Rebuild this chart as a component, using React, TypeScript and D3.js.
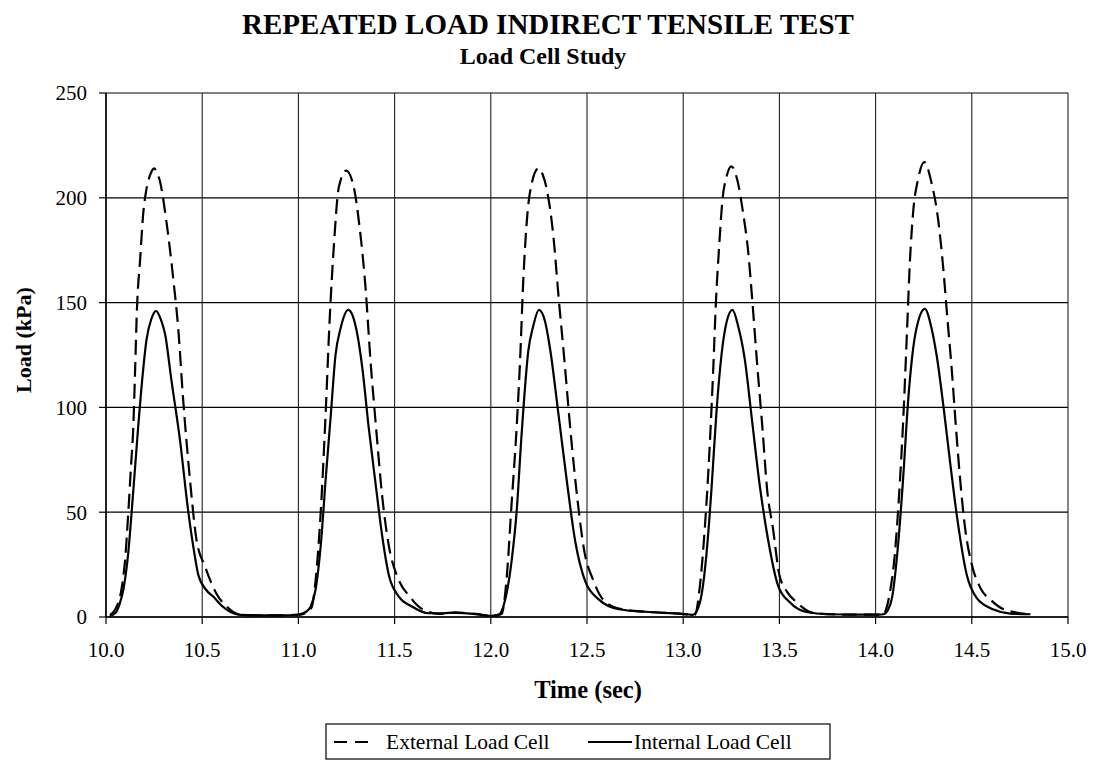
import React from "react";
import * as d3 from "d3";

// ---- Data ----
const xTicks = [10.0, 10.5, 11.0, 11.5, 12.0, 12.5, 13.0, 13.5, 14.0, 14.5, 15.0];
const yTicks = [0, 50, 100, 150, 200, 250];

// External load cell (dashed) : [time (sec), load (kPa)]
const externalLoadCell: [number, number][] = [
  [10.02, 1], [10.05, 4], [10.08, 13], [10.1, 28], [10.116, 50], [10.13, 72], [10.142, 91], [10.152, 120],
  [10.16, 145], [10.177, 170], [10.194, 193], [10.21, 204], [10.23, 211], [10.25, 214], [10.265, 212], [10.28, 208],
  [10.315, 188], [10.35, 161], [10.376, 137], [10.4, 105], [10.437, 65], [10.47, 37], [10.515, 24], [10.575, 11],
  [10.627, 5], [10.7, 1], [10.8, 0.8], [10.9, 0.8], [11.0, 1], [11.04, 2],
  [11.055, 3], [11.07, 5], [11.09, 18], [11.116, 50], [11.142, 98], [11.162, 141], [11.185, 178], [11.21, 205],
  [11.249, 213], [11.288, 205], [11.318, 186], [11.349, 157], [11.375, 122], [11.404, 90], [11.435, 58], [11.47, 34],
  [11.52, 18], [11.58, 9.6], [11.64, 4], [11.73, 1.5], [11.815, 2], [11.92, 1.5], [12.005, 0.6],
  [12.056, 1.5], [12.082, 18], [12.108, 54], [12.134, 90], [12.152, 122], [12.169, 161], [12.19, 192], [12.213, 207],
  [12.247, 214], [12.27, 211], [12.291, 204], [12.326, 181], [12.352, 153], [12.383, 122], [12.413, 90], [12.448, 58],
  [12.483, 33], [12.535, 17], [12.578, 9], [12.666, 4], [12.805, 2.5], [12.9, 2], [12.979, 1.6], [13.03, 1.2],
  [13.06, 1], [13.087, 15], [13.112, 42], [13.138, 82], [13.156, 118], [13.17, 150], [13.187, 177], [13.204, 199],
  [13.225, 210], [13.25, 215], [13.285, 207], [13.311, 193], [13.337, 175], [13.36, 150], [13.384, 121], [13.412, 90],
  [13.436, 61], [13.467, 42], [13.5, 20], [13.54, 12], [13.59, 7], [13.675, 2], [13.8, 1.2], [13.9, 1.1], [14.02, 1.1],
  [14.038, 1.2], [14.073, 11], [14.1, 30], [14.122, 58], [14.143, 93], [14.164, 138], [14.178, 169], [14.195, 193],
  [14.221, 209], [14.253, 217], [14.291, 207], [14.326, 189], [14.352, 166], [14.373, 142.5], [14.395, 119], [14.418, 90],
  [14.439, 66], [14.465, 42.5], [14.5, 25], [14.544, 14], [14.605, 7.6], [14.666, 3.7], [14.805, 1.3],
];

// Internal load cell (solid) : [time (sec), load (kPa)]
const internalLoadCell: [number, number][] = [
  [10.02, 0.5], [10.05, 2], [10.07, 6], [10.09, 13], [10.115, 30], [10.14, 58], [10.165, 88], [10.19, 115],
  [10.21, 132], [10.235, 142], [10.26, 146], [10.285, 142], [10.307, 135], [10.34, 113], [10.385, 84], [10.428, 50],
  [10.46, 30], [10.48, 20], [10.52, 13], [10.56, 9.5], [10.6, 5.5], [10.645, 2.5], [10.7, 1], [10.8, 0.8], [10.9, 0.8],
  [11.0, 1.2],
  [11.04, 2.5], [11.064, 5], [11.09, 13.5], [11.116, 34], [11.142, 66], [11.168, 96], [11.193, 125], [11.22, 138],
  [11.259, 146.5], [11.285, 143], [11.306, 135], [11.332, 119], [11.366, 90], [11.4, 64.5], [11.435, 39], [11.47, 20],
  [11.52, 10], [11.59, 5], [11.677, 1.8], [11.75, 1.8], [11.815, 2.2], [11.87, 1.8], [11.92, 1.4], [12.005, 0.6],
  [12.04, 1], [12.073, 7.6], [12.108, 26.7], [12.134, 50], [12.16, 87], [12.195, 127], [12.221, 139], [12.25, 146.5],
  [12.282, 141], [12.308, 128], [12.352, 96.5], [12.395, 65], [12.439, 36], [12.491, 17], [12.561, 8.4], [12.666, 3.7],
  [12.805, 2.5], [12.9, 2], [12.979, 1.6], [13.03, 1.2],
  [13.05, 1], [13.087, 7], [13.12, 29], [13.147, 61], [13.173, 98], [13.199, 125], [13.225, 140.5], [13.256, 146.5],
  [13.285, 139], [13.32, 123], [13.355, 96], [13.398, 62.7], [13.441, 37], [13.493, 15], [13.554, 7], [13.64, 2.4],
  [13.76, 1.3], [13.9, 1.1], [14.02, 1.1],
  [14.04, 1.3], [14.065, 3.5], [14.085, 9], [14.117, 34.6], [14.143, 66], [14.169, 103], [14.195, 128], [14.221, 141],
  [14.256, 147], [14.291, 137.7], [14.317, 125], [14.352, 101], [14.387, 74], [14.422, 48.6], [14.474, 20], [14.526, 9],
  [14.613, 3.6], [14.7, 1.6], [14.805, 1.3],
];

const title = "REPEATED LOAD INDIRECT TENSILE TEST";
const subtitle = "Load Cell Study";
const xTitle = "Time (sec)";
const yTitle = "Load (kPa)";
const seriesNames = ["External Load Cell", "Internal Load Cell"];

const W = 1097;
const H = 763;
const FONT = "'Liberation Serif', 'Times New Roman', Tinos, serif";
const tf = { fontFamily: FONT };

export default function App() {
  const x = d3.scaleLinear().domain([10, 15]).range([106, 1068]);
  const y = d3.scaleLinear().domain([0, 250]).range([617, 93]);

  const line = d3
    .line<[number, number]>()
    .x((d) => x(d[0]))
    .y((d) => y(d[1]))
    .curve(d3.curveMonotoneX);

  const fmt = d3.format(".1f");

  return (
    <svg
      width={W}
      height={H}
      style={{ position: "absolute", left: 0, top: 0, background: "#fff", fontFamily: FONT }}
    >
      <rect x={0} y={0} width={W} height={H} fill="#fff" />
      {/* Titles */}
      <text x={548} y={34} textAnchor="middle" fontSize={29} fontWeight="bold" style={tf}>
        {title}
      </text>
      <text x={543} y={64} textAnchor="middle" fontSize={24} fontWeight="bold" style={tf}>
        {subtitle}
      </text>

      {/* Horizontal grid + y ticks */}
      {yTicks.map((t) => (
        <g key={"y" + t}>
          <line x1={x(10)} x2={x(15)} y1={y(t)} y2={y(t)} stroke="#000" strokeWidth={1.2} />
          <line x1={x(10) - 7} x2={x(10)} y1={y(t)} y2={y(t)} stroke="#000" strokeWidth={1.2} />
          <text x={87} y={y(t)} dy="0.35em" textAnchor="end" fontSize={21} style={tf}>
            {t}
          </text>
        </g>
      ))}
      {/* Vertical grid + x ticks */}
      {xTicks.map((t) => (
        <g key={"x" + t}>
          <line x1={x(t)} x2={x(t)} y1={y(250)} y2={y(0)} stroke="#222" strokeWidth={1.1} />
          <line x1={x(t)} x2={x(t)} y1={y(0)} y2={y(0) + 7} stroke="#000" strokeWidth={1.2} />
          <text x={x(t)} y={657} textAnchor="middle" fontSize={21} style={tf}>
            {fmt(t)}
          </text>
        </g>
      ))}
      {/* Axis lines */}
      <line x1={x(10)} x2={x(10)} y1={y(250)} y2={y(0)} stroke="#000" strokeWidth={1.5} />
      <line x1={x(10)} x2={x(15)} y1={y(0)} y2={y(0)} stroke="#000" strokeWidth={1.5} />

      {/* Series */}
      <path d={line(externalLoadCell) || ""} fill="none" stroke="#000" strokeWidth={2.2} strokeDasharray="15,7" />
      <path d={line(internalLoadCell) || ""} fill="none" stroke="#000" strokeWidth={2.2} />

      {/* Axis titles */}
      <text x={588} y={698} textAnchor="middle" fontSize={24.5} fontWeight="bold" style={tf}>
        {xTitle}
      </text>
      <text
        transform={`translate(31, 340) rotate(-90)`}
        textAnchor="middle"
        fontSize={22}
        fontWeight="bold"
        style={tf}
      >
        {yTitle}
      </text>

      {/* Legend */}
      <rect x={326} y={724} width={504} height={35} fill="#fff" stroke="#000" strokeWidth={1.2} />
      <line x1={334} x2={372} y1={742} y2={742} stroke="#000" strokeWidth={2.2} strokeDasharray="13,8" />
      <text x={386} y={749} fontSize={21.5} style={tf}>
        {seriesNames[0]}
      </text>
      <line x1={588} x2={632} y1={742} y2={742} stroke="#000" strokeWidth={2} />
      <text x={634} y={749} fontSize={21.5} style={tf}>
        {seriesNames[1]}
      </text>
    </svg>
  );
}
